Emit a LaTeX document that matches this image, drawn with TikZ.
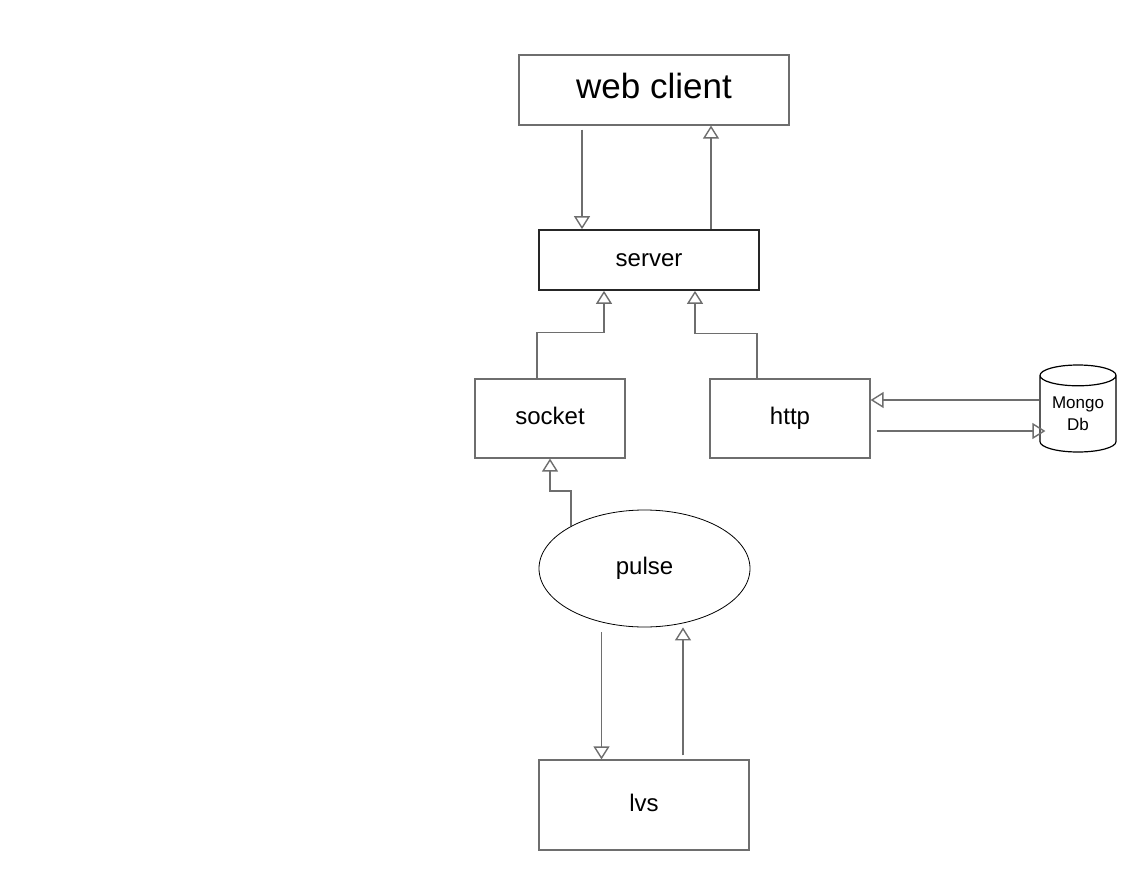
\documentclass[tikz,border=0pt]{standalone}
\usepackage{fontspec}
\setmainfont{Liberation Sans}
\usetikzlibrary{positioning}
\usetikzlibrary{arrows.meta}
\usetikzlibrary{shapes.geometric}

\definecolor{linegray}{HTML}{6E6E6E}
\tikzset{
	box/.style = {draw=linegray, line width=1.2pt, inner sep=0pt, text height=17pt, text depth=5pt, font=\fontsize{24}{26}\selectfont},
	link/.style = {draw=linegray, line width=1.4pt, -{Triangle[open,length=13pt,width=16pt]}}
}

\begin{document}
\begin{tikzpicture}[x=1pt,y=-1pt]
		\useasboundingbox (0,0) rectangle (1135,870);
		\node (web)    [box,minimum width=270pt,minimum height=70pt,text height=25pt,text depth=7.5pt,font=\fontsize{35}{40}\selectfont] at (654,90) {web client};
		\node (server) [box,draw=black!85,line width=1.7pt,minimum width=220pt,minimum height=60pt] at (649,260) {server};
		\node (socket) [box,minimum width=150pt,minimum height=79pt] at (550,418.5) {socket};
		\node (http)   [box,minimum width=160pt,minimum height=79pt] at (790,418.5) {http};
		\node (mongo)  [box,draw=black,shape=cylinder,shape border rotate=90,aspect=0.4,minimum width=76pt,minimum height=87pt,align=center,text height=,text depth=,font=\fontsize{17}{22}\selectfont] at (1078,414) {Mongo\\Db};
		\node (pulse)  [box,draw=black,line width=0.8pt,shape=ellipse,minimum width=211pt,minimum height=117pt] at (644.5,568.5) {pulse};
		\node (lvs)    [box,minimum width=210pt,minimum height=90pt] at (644,805) {lvs};
		\draw [link] ([xshift=-72pt,yshift=-4pt]web.south) -- ([xshift=-72pt]web.south |- server.north);
		\draw [link] ([xshift=62pt]server.north) -- ([xshift=62pt]server.north |- web.south);
		\draw [link] ([xshift=-13pt]socket.north) -- ++(0,-46) -| ([xshift=-45pt]server.south);
		\draw [link] ([xshift=-33pt]http.north) -- ++(0,-45) -| ([xshift=46pt]server.south);
		\draw [link] ([yshift=14pt]mongo.west) -- ([yshift=14pt]mongo.west -| http.east);
		\draw [link] ([xshift=6pt,yshift=-12.5pt]http.east) -- ([xshift=6pt,yshift=-12.5pt]http.east -| mongo.west);
		\draw [link] (pulse.150) -- ++(0,-35) -| (socket.south);
		\draw [link] ([xshift=-43pt,yshift=-5pt]pulse.south) -- ([xshift=-43pt]pulse.south |- lvs.north);
		\draw [link] ([xshift=39pt,yshift=4pt]lvs.north) -- ([xshift=39pt]lvs.north |- pulse.south);
	\end{tikzpicture}
\end{document}
